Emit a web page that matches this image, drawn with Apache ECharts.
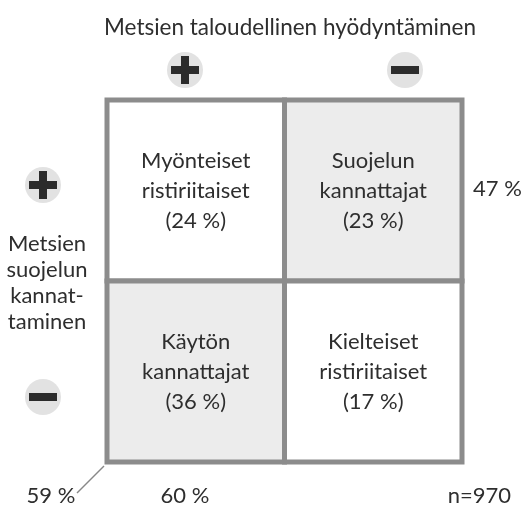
<!DOCTYPE html>
<html>
<head>
<meta charset="utf-8">
<script src="https://cdn.jsdelivr.net/npm/echarts@6/dist/echarts.min.js"></script>
<style>html,body{margin:0;padding:0;background:#fff}#c{width:525px;height:520px}</style>
</head>
<body>
<div id="c"></div>
<script>
var xCategories = ['+', '−'];          // taloudellinen hyödyntäminen
var yCategories = ['−', '+'];          // suojelun kannattaminen (bottom to top)
var cellNames = ['Myönteiset\nristiriitaiset', 'Suojelun\nkannattajat', 'Käytön\nkannattajat', 'Kielteiset\nristiriitaiset'];
var cellX = [0, 1, 0, 1];
var cellY = [1, 1, 0, 0];
var cellPercent = [24, 23, 36, 17];
var cellShaded = [false, true, true, false];
var marginLabels = ['47 %', '59 %', '60 %', 'n=970'];
var titleText = 'Metsien taloudellinen hyödyntäminen';
var sideText = 'Metsien\nsuojelun\nkannat-\ntaminen';

var FONT = 'Lato';
var TXT = '#2e2e2e';
var FS = 22;
var data = cellNames.map(function (n, i) {
  return { value: [cellX[i], cellY[i], cellPercent[i]], name: n, shaded: cellShaded[i] };
});

function icon(cx, cy, plus) {
  var children = [{
    type: 'circle', shape: { cx: cx, cy: cy, r: 18 },
    style: { fill: '#e2e2e2' }
  }, {
    type: 'rect', shape: { x: cx - 14, y: cy - 4, width: 28, height: 8 },
    style: { fill: '#2b2b2b' }
  }];
  if (plus) children.push({
    type: 'rect', shape: { x: cx - 4, y: cy - 14, width: 8, height: 28 },
    style: { fill: '#2b2b2b' }
  });
  return { type: 'group', children: children };
}

var chart = echarts.init(document.getElementById('c'));
chart.setOption({
  animation: false,
  backgroundColor: '#fff',
  graphic: [
    { type: 'text', x: 290, y: 28, style: { text: titleText, fontFamily: FONT, fontSize: 22.5, fill: TXT, align: 'center', verticalAlign: 'middle' } },
    icon(185, 70, true), icon(405, 70, false),
    icon(43, 185, true), icon(43, 397, false),
    { type: 'text', x: 47, y: 283, style: { text: sideText, fontFamily: FONT, fontSize: FS, lineHeight: 26, fill: TXT, align: 'center', verticalAlign: 'middle' } },
    { type: 'text', x: 473, y: 189, style: { text: marginLabels[0], fontFamily: FONT, fontSize: FS, fill: TXT, align: 'left', verticalAlign: 'middle' } },
    { type: 'text', x: 51, y: 496, style: { text: marginLabels[1], fontFamily: FONT, fontSize: FS, fill: TXT, align: 'center', verticalAlign: 'middle' } },
    { type: 'text', x: 185, y: 496, style: { text: marginLabels[2], fontFamily: FONT, fontSize: FS, fill: TXT, align: 'center', verticalAlign: 'middle' } },
    { type: 'text', x: 511, y: 496, style: { text: marginLabels[3], fontFamily: FONT, fontSize: FS, fill: TXT, align: 'right', verticalAlign: 'middle' } },
    { type: 'line', shape: { x1: 104, y1: 466, x2: 77, y2: 493 }, style: { stroke: '#888', lineWidth: 1.5 } }
  ],
  grid: { left: 107, top: 100, width: 355, height: 362 },
  xAxis: { type: 'category', data: xCategories, show: false },
  yAxis: { type: 'category', data: yCategories, show: false },
  series: [{
    type: 'custom',
    data: data,
    renderItem: function (params, api) {
      var c = api.coord([api.value(0), api.value(1)]);
      var s = api.size([1, 1]);
      var item = data[params.dataIndex];
      return {
        type: 'rect',
        shape: { x: c[0] - s[0] / 2, y: c[1] - s[1] / 2, width: s[0], height: s[1] },
        style: { fill: item.shaded ? '#ececec' : '#ffffff', stroke: '#8c8c8c', lineWidth: 5 },
        textContent: {
          style: {
            text: item.name + '\n(' + api.value(2) + ' %)',
            fontFamily: FONT, fontSize: FS, lineHeight: 30, fill: TXT, align: 'center'
          }
        },
        textConfig: { position: 'inside' }
      };
    }
  }]
});
</script>
</body>
</html>
